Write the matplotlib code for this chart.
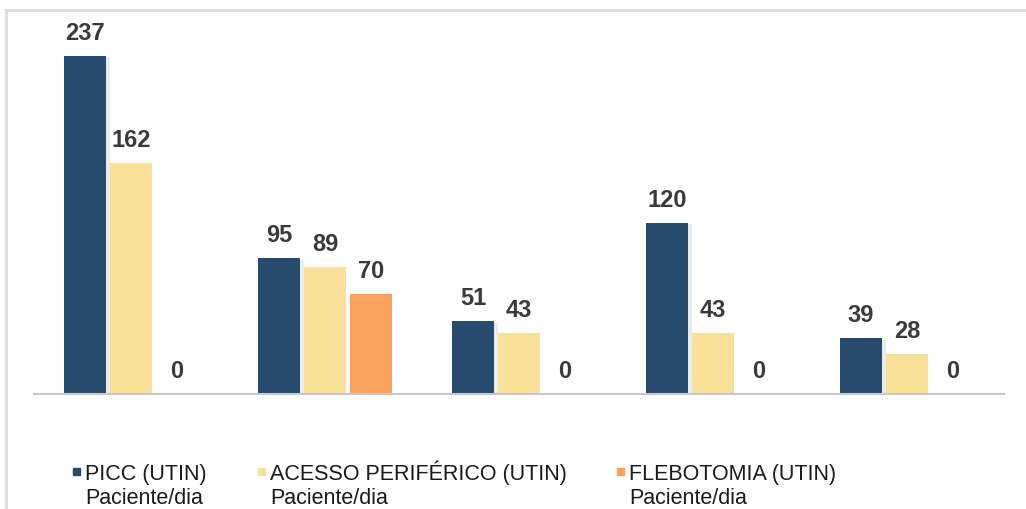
import matplotlib
matplotlib.use("Agg")
import matplotlib.pyplot as plt
import matplotlib.patheffects as pe
from matplotlib.patches import Rectangle
from matplotlib.lines import Line2D
import numpy as np

plt.rcParams['font.family'] = ['Liberation Sans', 'DejaVu Sans']

groups = ['G1', 'G2', 'G3', 'G4', 'G5']
series_names = ['PICC (UTIN)\nPaciente/dia',
                'ACESSO PERIFÉRICO (UTIN)\nPaciente/dia',
                'FLEBOTOMIA (UTIN)\nPaciente/dia']
picc = [237, 95, 51, 120, 39]
acesso = [162, 89, 43, 43, 28]
flebotomia = [0, 70, 0, 0, 0]
colors = ['#264b6f', '#fae19a', '#f9a25e']

W, H = 1026, 509
fig = plt.figure(figsize=(W / 100, H / 100), dpi=100)
ax = fig.add_axes([34 / W, (H - 394) / H, 970 / W, 374 / H])

x = np.arange(len(groups))
width = 0.2165
step = 0.237
shadow = [pe.SimplePatchShadow(offset=(3, -1), shadow_rgbFace='#b0b0b0', alpha=0.25), pe.Normal()]

for i, (vals, col) in enumerate(zip([picc, acesso, flebotomia], colors)):
    bars = ax.bar(x + (i - 1) * step, vals, width, color=col, zorder=2)
    if i == 0:
        for b in bars:
            b.set_path_effects(shadow)
    for b, v in zip(bars, vals):
        ax.annotate(str(v), (b.get_x() + b.get_width() / 2, v),
                    xytext=(0, 8), textcoords='offset points',
                    ha='center', va='bottom', fontsize=17, fontweight='bold',
                    color='#3a3a3a')

ax.set_xlim(-0.5, len(groups) - 0.5)
ax.set_ylim(0, 262)
for s in ['top', 'right', 'left']:
    ax.spines[s].set_visible(False)
ax.spines['bottom'].set_color('#c8c8c8')
ax.spines['bottom'].set_linewidth(1.5)
ax.set_xticks([])
ax.set_yticks([])
ax.patch.set_alpha(0)

# outer frame (top and left edges visible)
fig.add_artist(Line2D([6 / W, 1], [1 - 10 / H, 1 - 10 / H], color='#dcdcdc', lw=2))
fig.add_artist(Line2D([6 / W, 6 / W], [0, 1 - 10 / H], color='#dcdcdc', lw=2))

# legend
leg_x = [73, 258, 617]
for lx, name, col in zip(leg_x, series_names, colors):
    fig.add_artist(Rectangle((lx / W, 1 - 475 / H), 7 / W, 7 / H, color=col,
                             transform=fig.transFigure))
    fig.text((lx + 12) / W, 1 - 504 / H, name, fontsize=15.5, color='#1a1a1a',
             va='baseline', ha='left', linespacing=1.2)

fig.savefig('out.png', dpi=100)
